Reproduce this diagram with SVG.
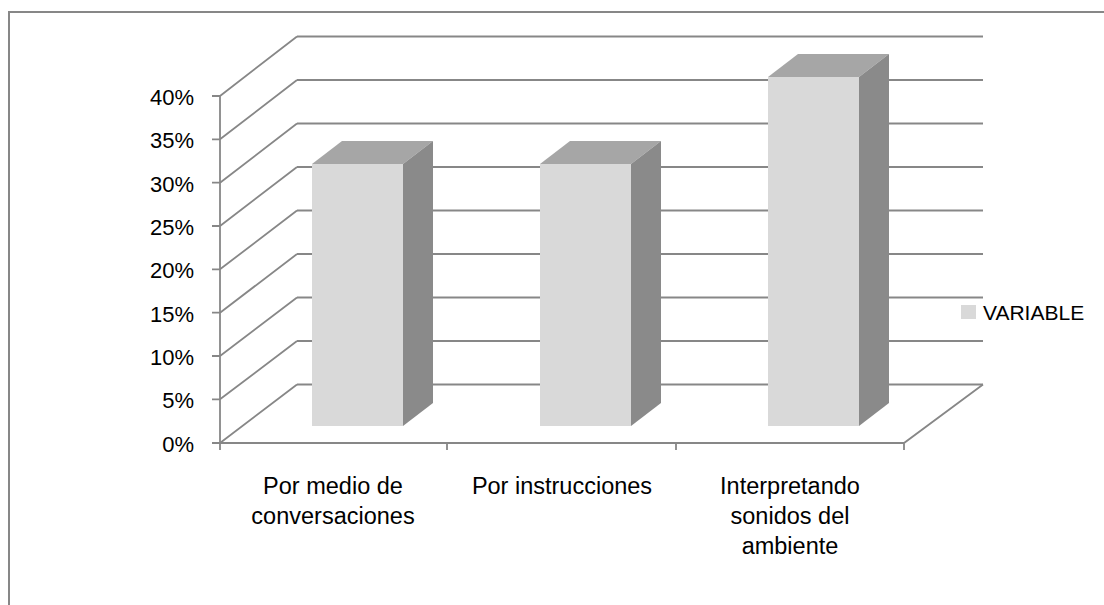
<svg xmlns="http://www.w3.org/2000/svg" width="1104" height="605" viewBox="0 0 1104 605">
<style>
.g{stroke:#878787;stroke-width:1.8;fill:none}
.t{font-family:"Liberation Sans",Arial,sans-serif;fill:#000}
.ax{font-size:22px;text-anchor:end}
.cat{font-size:23.5px;text-anchor:middle}
.front{fill:#d9d9d9}
.top{fill:#a6a6a6}
.side{fill:#8a8a8a}
</style>
<rect x="0" y="0" width="1104" height="605" fill="#fff"/>
<rect x="9" y="12" width="1110" height="610" fill="none" stroke="#878787" stroke-width="2"/>
<g id="grid">
<path class="g" d="M297 36.5H983M297 80H983M297 123.5H983M297 167H983M297 210.5H983M297 254H983M297 297.5H983M297 341H983M297 384.5H983"/>
<path class="g" d="M220 96L297 36.5M220 139.3L297 80M220 182.7L297 123.5M220 226L297 167M220 269.3L297 210.5M220 312.7L297 254M220 356L297 297.5M220 399.3L297 341M220 443L297 384.5"/>
<path class="g" d="M220 96V450M212 96H220M212 139.3H220M212 182.7H220M212 226H220M212 269.3H220M212 312.7H220M212 356H220M212 399.3H220M212 443H904L983 384.5M447 443V450M676 443V450M904 443V450"/>
</g>
<g id="bar1">
<rect class="front" x="312" y="164" width="91" height="262"/>
<polygon class="top" points="312,164 342,141 433,141 403,164"/>
<polygon class="side" points="403,164 433,141 433,403 403,426"/>
</g>
<g id="bar2">
<rect class="front" x="540" y="164" width="91" height="262"/>
<polygon class="top" points="540,164 570,141 661,141 631,164"/>
<polygon class="side" points="631,164 661,141 661,403 631,426"/>
</g>
<g id="bar3">
<rect class="front" x="768" y="77" width="91" height="349"/>
<polygon class="top" points="768,77 798,54 889,54 859,77"/>
<polygon class="side" points="859,77 889,54 889,403 859,426"/>
</g>
<g id="yaxis" class="t ax">
<text x="194" y="105">40%</text>
<text x="194" y="148">35%</text>
<text x="194" y="192">30%</text>
<text x="194" y="235">25%</text>
<text x="194" y="278">20%</text>
<text x="194" y="322">15%</text>
<text x="194" y="365">10%</text>
<text x="194" y="408">5%</text>
<text x="194" y="452">0%</text>
</g>
<g id="xaxis" class="t cat">
<text x="333" y="494">Por medio de</text>
<text x="333" y="524">conversaciones</text>
<text x="562" y="494">Por instrucciones</text>
<text x="790" y="494">Interpretando</text>
<text x="790" y="524">sonidos del</text>
<text x="790" y="554">ambiente</text>
</g>
<g id="legend">
<rect x="961" y="305" width="15" height="14" class="front"/>
<text x="983" y="320" class="t" font-size="21">VARIABLE</text>
</g>
</svg>
